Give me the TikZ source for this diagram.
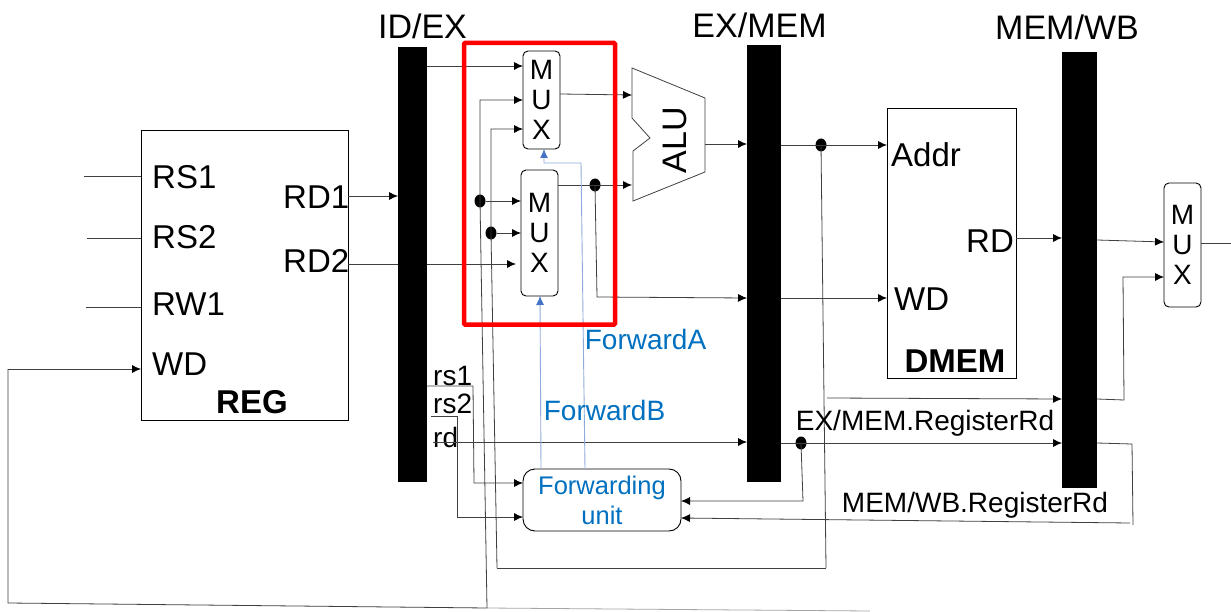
\documentclass[tikz,border=0pt]{standalone}
\usepackage{fontspec}
\setmainfont{Liberation Sans}
\usetikzlibrary{arrows.meta,shapes.geometric}
\definecolor{fwdtext}{HTML}{0070C0}
\definecolor{fwdline}{HTML}{8FAADC}
\definecolor{fwdtip}{HTML}{4472C4}
\tikzset{
  wire/.style={draw=black!75,line width=0.8pt},
  arrowwire/.style={wire,-{Latex[length=9pt,width=8pt,color=black]}},
  fwdwire/.style={draw=fwdline,line width=0.9pt,-{Latex[length=9pt,width=8pt,color=fwdtip]}},
  bar/.style={fill=black,inner sep=0pt,outer sep=0pt,minimum width=#1,anchor=north west},
  block/.style={draw,line width=0.8pt,inner sep=0pt,outer sep=0pt,anchor=north west},
  muxbox/.style={draw,rounded corners=5pt,line width=0.9pt,inner sep=0pt,outer sep=0pt,align=center,minimum width=37pt,font=\fontsize{28}{30}\selectfont},
  dot/.style={ellipse,fill=black,inner sep=0pt,minimum width=11pt,minimum height=13pt},
  big/.style={inner sep=0pt,font=\fontsize{33}{36}\selectfont},
  title/.style={inner sep=0pt,font=\fontsize{34}{36}\selectfont},
  small/.style={inner sep=0pt,font=\fontsize{28}{30}\selectfont},
  fwdlabel/.style={inner sep=0pt,text=fwdtext,font=\fontsize{28}{30}\selectfont},
}
\begin{document}
\begin{tikzpicture}[x=1pt,y=-1pt]
  \useasboundingbox (0,0) rectangle (1231,612);
  \fill[white] (0,0) rectangle (1231,612);
  % pipeline registers
  \node[bar=29pt,minimum height=435pt] (idex) at (398,47) {};
  \node[bar=34pt,minimum height=437pt] (exmem) at (747,45) {};
  \node[bar=35pt,minimum height=436pt] (memwb) at (1062,52) {};
  \node[title] (idexname) at (422.5,26) {ID/EX};
  \node[title] (exmemname) at (759.5,25) {EX/MEM};
  \node[title] (memwbname) at (1067,27) {MEM/WB};
  % register file
  \node[block,minimum width=207pt,minimum height=290pt] (reg) at (141,130) {};
  \node[big,anchor=west] (rsone) at (152,177) {RS1};
  \node[big,anchor=west] (rstwo) at (152,237) {RS2};
  \node[big,anchor=west] (rwone) at (152,304) {RW1};
  \node[big,anchor=west] (wd) at (152,364) {WD};
  \node[big,anchor=west] (rdone) at (283,197) {RD1};
  \node[big,anchor=west] (rdtwo) at (283,261) {RD2};
  \node[big] (regname) at (252,402) {\textbf{REG}};
  % data memory
  \node[block,minimum width=129pt,minimum height=270pt] (dmem) at (887,108) {};
  \node[big,anchor=west] (addr) at (891,155) {Addr};
  \node[big,anchor=west] (rd) at (966,241) {RD};
  \node[big,anchor=west] (memwd) at (894,299) {WD};
  \node[big] (dmemname) at (955,361) {\textbf{DMEM}};
  % muxes and forwarding unit
  \node[muxbox,minimum height=98pt] (muxa) at (541.5,100) {M\\U\\X};
  \node[muxbox,minimum height=126pt] (muxb) at (539.5,233) {M\\U\\X};
  \node[muxbox,minimum height=124pt] (muxc) at (1182.5,245) {M\\U\\X};
  \node[draw,rounded corners=12pt,line width=0.9pt,inner sep=0pt,outer sep=0pt,minimum width=158pt,minimum height=62pt,align=center,text=fwdtext,font=\fontsize{25.5}{30}\selectfont] (fwd) at (602,500) {Forwarding\\unit};
  % alu
  \draw[draw=black!75,line width=0.8pt] (632,68) coordinate (alutop) -- (705,98) -- (705,172) coordinate (aluout) -- (633,201) -- (633,151) -- (650,138) -- (632,118) -- cycle;
  \node[inner sep=0pt,rotate=90,font=\fontsize{34}{36}\selectfont] (aluname) at (675,140) {ALU};
  \coordinate (alua) at (632,95);
  \coordinate (alub) at (632,185);
  % junctions
  \node[dot] (ja) at (480,201) {};
  \node[dot] (jb) at (491,233) {};
  \node[dot] (jc) at (595,185) {};
  \node[dot] (jd) at (821,145) {};
  \node[dot] (je) at (801,443) {};
  % free ends of wires
  \coordinate (wdfar) at (8,369);
  \coordinate (wdlow) at (8,603);
  \coordinate (lowend) at (870,611);
  \coordinate (lowjoin) at (487,608);
  \coordinate (backleft) at (497,568);
  \coordinate (backright) at (826,568);
  \coordinate (rsonecorner) at (473,386);
  \coordinate (rsonelow) at (474,483);
  \coordinate (rstwocorner) at (457,416);
  \coordinate (rstwolow) at (457,517);
  % register file wires
  \draw[wire] (84,176) coordinate (ina) -- (reg.west |- ina);
  \draw[wire] (87,238) coordinate (inb) -- (reg.west |- inb);
  \draw[wire] (86,307) coordinate (inc) -- (reg.west |- inc);
  \draw[arrowwire] (wdfar) -- (reg.west |- wdfar);
  \draw[wire] (wdfar) -- (wdlow) -- (lowjoin);
  \draw[wire,black!35] (lowjoin) -- (lowend);
  \draw[arrowwire] (reg.east |- 0,196) -- (idex.west |- 0,196);
  \draw[wire] (reg.east |- 0,264) -- (idex.west |- 0,264);
  % into the muxes
  \draw[arrowwire] (idex.east |- 0,66) -- (muxa.west |- 0,66);
  \draw[arrowwire] (idex.east |- 0,264) -- (516,264);
  \draw[arrowwire] (lowjoin) -- (ja.center) -- (480,100) -- (muxa.west |- 0,100);
  \draw[arrowwire] (backleft) -- (jb.center) -- (491,129) -- (muxa.west |- 0,129);
  \draw[arrowwire] (ja) -- (muxb.west |- ja);
  \draw[arrowwire] (jb) -- (muxb.west |- jb);
  \draw[wire] (backleft) -- (backright);
  % execute stage
  \draw[arrowwire] (muxa.east |- 0,94) -- (alua);
  \draw[arrowwire] (muxb.east |- alub) -- (alub);
  \draw[arrowwire] (jc.center) -- (597,297) -- (exmem.west |- 0,298);
  \draw[arrowwire] (705,144) -- (exmem.west |- 0,144);
  \draw[arrowwire] (exmem.east |- jd) -- (dmem.west |- jd);
  \draw[wire] (jd.center) -- (backright);
  \draw[arrowwire] (exmem.east |- 0,298) -- (dmem.west |- 0,298);
  % memory and write back
  \draw[arrowwire] (dmem.east |- 0,238) -- (memwb.west |- 0,238);
  \draw[arrowwire] (memwb.east |- 0,240) -- (muxc.west |- 0,242);
  \draw[arrowwire] (memwb.east |- 0,399) -- (1124,400) -- (1123,277) -- (muxc.west |- 0,277);
  \draw[wire] (muxc.east |- 0,243) -- (1231,243);
  \draw[arrowwire] (827,398) -- (memwb.west |- 0,399);
  % register numbers
  \node[small,anchor=west] (rsonename) at (433,376) {rs1};
  \node[small,anchor=west] (rstwoname) at (433,404) {rs2};
  \node[small,anchor=west] (rdname) at (433,437) {rd};
  \draw[arrowwire] (idex.east |- rsonecorner) -- (rsonecorner) -- (rsonelow) -- (fwd.west |- rsonelow);
  \draw[arrowwire] (431,416) -- (rstwocorner) -- (rstwolow) -- (fwd.west |- rstwolow);
  \draw[arrowwire] (433,442) -- (exmem.west |- 0,442);
  \draw[arrowwire] (exmem.east |- je) -- (memwb.west |- je);
  \draw[arrowwire] (je.center) -- (803,501) -- (fwd.east |- 0,501);
  \draw[wire] (memwb.east |- je) -- (1132,444) -- (1133,525);
  \draw[arrowwire] (1130,523) -- (fwd.east |- 0,518);
  \node[small] (exmemrd) at (925,423) {EX/MEM.RegisterRd};
  \node[small] (memwbrd) at (975,505) {MEM/WB.RegisterRd};
  % forwarding controls
  \draw[fwdwire] (fwd.north -| 541,0) -- (540,296);
  \draw[fwdwire] (fwd.north -| 585,0) -- (581,163) -- (544,163) -- (muxa.south -| 544,0);
  \node[fwdlabel] (fwdaname) at (645.5,339) {ForwardA};
  \node[fwdlabel] (fwdbname) at (604.5,410) {ForwardB};
  % highlight
  \node[draw=red,line width=4.5pt,rounded corners=1pt,inner sep=0pt,minimum width=151pt,minimum height=281.5pt,anchor=north west] (focus) at (461.75,40.75) {};
\end{tikzpicture}
\end{document}
